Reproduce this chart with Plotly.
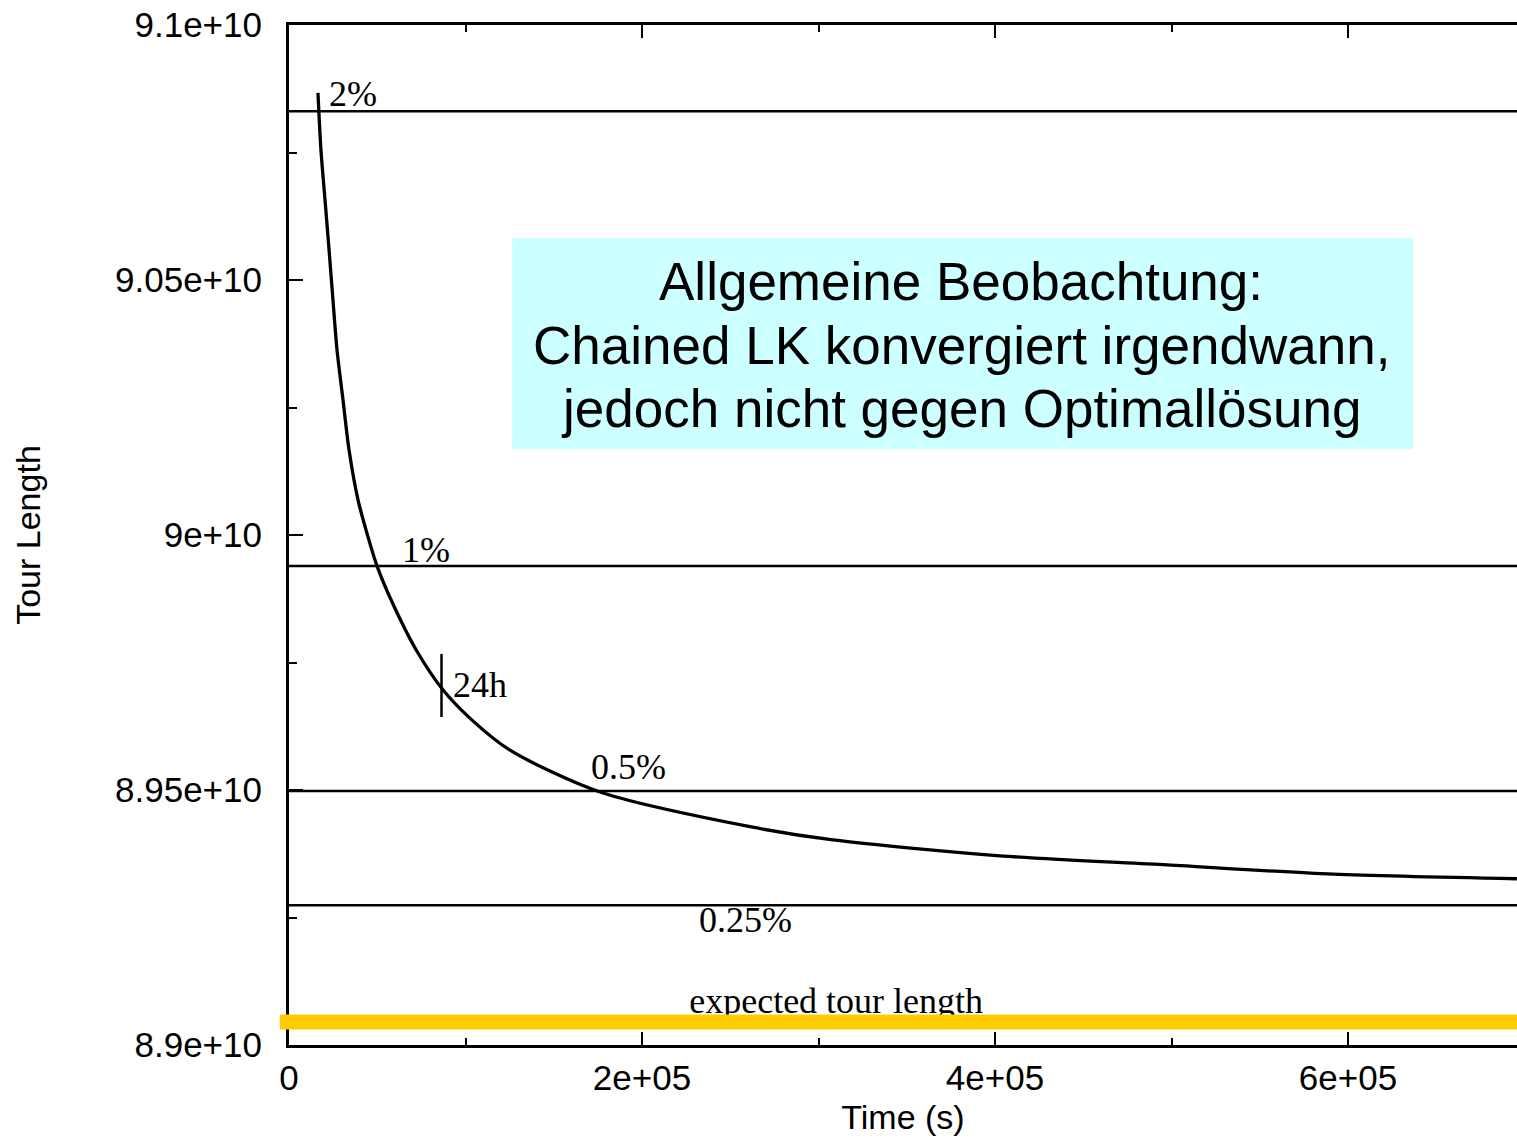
import plotly.graph_objects as go

# ---- data ----
time_s = [16400, 18100, 20400, 22700, 24900, 27200, 30600, 34000, 39100, 45300,
          49900, 57800, 72000, 87300, 103700, 125200, 176200, 261200, 308200,
          402800, 497500, 591500, 695700]
tour_len = [9.0867e10, 9.0755e10, 9.0657e10, 9.0559e10, 9.0461e10, 9.0363e10,
            9.0265e10, 9.0167e10, 9.0069e10, 8.9990e10, 8.9939e10, 8.9873e10,
            8.9775e10, 8.9696e10, 8.9637e10, 8.9578e10, 8.9496e10, 8.9428e10,
            8.9402e10, 8.9371e10, 8.9353e10, 8.9335e10, 8.9326e10]

ref_labels = ["2%", "1%", "0.5%", "0.25%"]
ref_levels = [9.0831e10, 8.9939e10, 8.9498e10, 8.9274e10]
expected_len = 8.9045e10

marker_time = [86400]
marker_len = [8.9705e10]
marker_label = ["24h"]

x_tickvals = [0, 2e5, 4e5, 6e5]
x_ticktext = ["0", "2e+05", "4e+05", "6e+05"]
y_tickvals = [8.9e10, 8.95e10, 9.0e10, 9.05e10, 9.1e10]
y_ticktext = ["8.9e+10", "8.95e+10", "9e+10", "9.05e+10", "9.1e+10"]

note_lines = ["Allgemeine Beobachtung:",
              "Chained LK konvergiert irgendwann,",
              "jedoch nicht gegen Optimallösung"]

X_MAX = 695750
SANS = "Liberation Sans, Arial, sans-serif"
SERIF = "Liberation Serif, Times New Roman, serif"

fig = go.Figure()

# reference percentage lines
for lvl in ref_levels:
    fig.add_trace(go.Scatter(x=[0, X_MAX], y=[lvl, lvl], mode="lines",
                             line=dict(color="black", width=2.5),
                             showlegend=False, hoverinfo="skip"))

# convergence curve
fig.add_trace(go.Scatter(x=time_s, y=tour_len, mode="lines",
                         line=dict(color="black", width=3.3, shape="spline", smoothing=0.8),
                         showlegend=False))

# 24h marker
fig.add_trace(go.Scatter(x=marker_time, y=marker_len, mode="markers",
                         marker=dict(symbol="line-ns", size=45,
                                     line=dict(color="black", width=2.5)),
                         showlegend=False))

# expected tour length label (drawn as trace so the yellow bar can cover its descenders)
fig.add_trace(go.Scatter(x=[310000], y=[expected_len], mode="text",
                         text=["expected tour length"], textposition="top center",
                         textfont=dict(family=SERIF, size=36, color="black"),
                         showlegend=False))

# yellow bar at expected tour length
fig.add_shape(type="line", xref="paper", yref="y", x0=-0.0075, x1=1,
              y0=expected_len, y1=expected_len,
              line=dict(color="#FFCC00", width=15), layer="above")

# cyan note box
fig.add_shape(type="rect", xref="x", yref="y", x0=126300, x1=636800,
              y0=9.01686e10, y1=9.05824e10,
              fillcolor="#CCFFFF", line=dict(width=0), layer="below")

note_y = [9.04980e10, 9.03725e10, 9.02490e10]
for txt, yy in zip(note_lines, note_y):
    fig.add_annotation(x=381000, y=yy, xref="x", yref="y", text=txt,
                       showarrow=False, xanchor="center", yanchor="middle",
                       font=dict(family=SANS, size=53, color="black"))

# percentage labels
label_pos = [(36500, 9.0865e10), (77500, 8.9971e10), (192300, 8.9545e10), (258900, 8.9245e10)]
for txt, (xx, yy) in zip(ref_labels, label_pos):
    fig.add_annotation(x=xx, y=yy, xref="x", yref="y", text=txt, showarrow=False,
                       xanchor="center", yanchor="middle",
                       font=dict(family=SERIF, size=36, color="black"))
fig.add_annotation(x=108200, y=8.9706e10, xref="x", yref="y", text=marker_label[0],
                   showarrow=False, xanchor="center", yanchor="middle",
                   font=dict(family=SERIF, size=36, color="black"))

fig.update_layout(
    width=1517, height=1144,
    margin=dict(l=289, r=0, t=25, b=99, autoexpand=False),
    paper_bgcolor="white", plot_bgcolor="white",
    showlegend=False,
    font=dict(family=SANS, color="black"),
    xaxis=dict(range=[0, X_MAX], tickvals=x_tickvals, ticktext=x_ticktext,
               automargin=False,
               ticks="inside", ticklen=13, tickwidth=2, tickcolor="black",
               showline=True, linewidth=3, linecolor="black", mirror="ticks",
               showgrid=False, zeroline=False,
               tickfont=dict(family=SANS, size=35, color="black"),
               ticklabelstandoff=0, ticklabeloverflow="allow",
               minor=dict(dtick=1e5, tick0=0, ticks="inside", ticklen=7,
                          tickwidth=2, tickcolor="black", showgrid=False),
               title=dict(text="Time (s)", font=dict(family=SANS, size=34, color="black"),
                          standoff=10)),
    yaxis=dict(range=[8.9e10, 9.1e10], tickvals=y_tickvals, ticktext=y_ticktext,
               automargin=False,
               ticks="inside", ticklen=14, tickwidth=2, tickcolor="black",
               showline=True, linewidth=3, linecolor="black", mirror=False,
               showgrid=False, zeroline=False,
               tickfont=dict(family=SANS, size=35, color="black"),
               ticklabelstandoff=17, ticklabeloverflow="allow",
               minor=dict(dtick=2.5e8, tick0=8.9e10, ticks="inside", ticklen=8,
                          tickwidth=2, tickcolor="black", showgrid=False),
               title=dict(text="Tour Length", font=dict(family=SANS, size=34, color="black"),
                          standoff=65)),
)

fig.write_html("out.html", config={"displayModeBar": False},
               post_script="document.body.style.margin='0';document.body.style.overflow='hidden';")
